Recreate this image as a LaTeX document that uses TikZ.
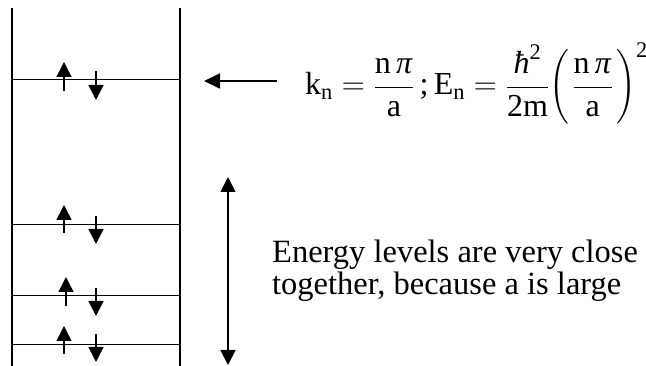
\RequirePackage{fix-cm}
\documentclass[tikz,border=0pt]{standalone}
\usepackage{amsmath}
\usepackage{fontspec}
\setmainfont{Liberation Serif}
\usetikzlibrary{arrows.meta}
\tikzset{
  wall/.style={line width=1.4pt},
  level/.style={line width=1pt},
  spin/.style={line width=1.6pt,-{Triangle[length=15pt,width=15pt]}},
  bigarrow/.style={line width=1.8pt,-{Triangle[length=16pt,width=15pt]}},
  dblarrow/.style={line width=1.8pt,{Triangle[length=15pt,width=15pt]}-{Triangle[length=15pt,width=15pt]}},
  lbl/.style={inner sep=0pt,anchor=base west,font=\fontsize{32.5}{33}\selectfont}
}
\begin{document}
\begin{tikzpicture}[x=1pt,y=-1pt]
\useasboundingbox (0,0) rectangle (646,366);
% walls
\coordinate (lwt) at (12,8); \coordinate (lwb) at (12,366);
\coordinate (rwt) at (180,8); \coordinate (rwb) at (180,366);
\draw[wall] (lwt) -- (lwb);
\draw[wall] (rwt) -- (rwb);
% levels and spins
\foreach \y/\ux/\ua/\ub/\da/\db [count=\i] in {80/64/91/62/71/100, 225/64/233/205/216/244, 296/66/306/277/288/316, 345/64/354/326/334/362}{
  \coordinate (L\i a) at (12,\y);
  \coordinate (L\i b) at (180,\y);
  \draw[level] (L\i a) -- (L\i b);
  \coordinate (U\i a) at (\ux,\ua); \coordinate (U\i b) at (\ux,\ub);
  \coordinate (D\i a) at (96,\da); \coordinate (D\i b) at (96,\db);
  \draw[spin] (U\i a) -- (U\i b);
  \draw[spin] (D\i a) -- (D\i b);
}
% equation
\node[lbl,font=\fontsize{32}{34}\selectfont] (eq) at (305,95)
  {$\text{k}_{\text{n}} = \dfrac{\text{n\,\textit{π}}}{\text{a}}\,\text{;}\,\text{E}_{\text{n}} = \dfrac{\textit{ħ}^{\text{2}}}{\text{2m}}\biggl(\mkern2mu\dfrac{\text{n\,\textit{π}}}{\text{a}}\mkern2mu\biggr)^{\text{2}}$};
\coordinate (hat) at (277,81);
\coordinate (hah) at (204,81);
\draw[bigarrow] (hat) -- (hah);
% vertical double arrow
\coordinate (vt) at (228,177);
\coordinate (vb) at (228,365);
\draw[dblarrow] (vb) -- (vt);
% text
\node[lbl] (t1) at (272,263) {Energy levels are very close};
\node[lbl] (t2) at (272,295) {together, because a is large};
\end{tikzpicture}
\end{document}
